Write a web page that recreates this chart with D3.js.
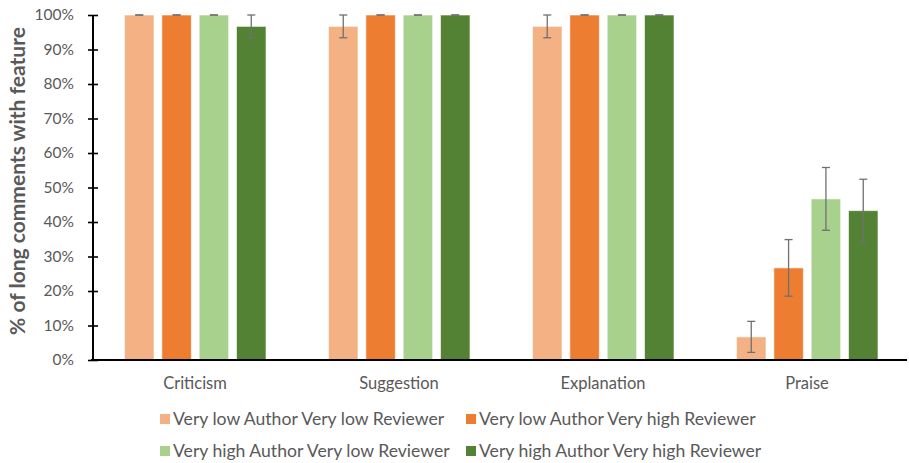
<!DOCTYPE html>
<html>
<head>
<meta charset="utf-8">
<script src="https://cdn.jsdelivr.net/npm/d3@7"></script>
<style>
  body { margin: 0; background: #fff; }
  svg { display: block; }
  text { font-family: Lato, "Open Sans", sans-serif; }
</style>
</head>
<body>
<svg id="chart" width="909" height="463"></svg>
<script>
// Share of long comments showing each feature, per author/reviewer group
const categories = ["Criticism", "Suggestion", "Explanation", "Praise"];
const seriesNames = [
  "Very low Author Very low Reviewer",
  "Very low Author Very high Reviewer",
  "Very high Author Very low Reviewer",
  "Very high Author Very high Reviewer"
];
const seriesColors = ["#F4B183", "#ED7D31", "#A9D18E", "#548235"];
// values (%) per series, in category order
const values = [
  [100, 96.7, 96.7, 6.7],
  [100, 100, 100, 26.7],
  [100, 100, 100, 46.7],
  [96.7, 100, 100, 43.3]
];
// error half-widths (%) per series
const errors = [
  [0, 3.3, 3.3, 4.5],
  [0, 0, 0, 8.2],
  [0, 0, 0, 9.1],
  [3.3, 0, 0, 9.1]
];
const yTicks = [0, 10, 20, 30, 40, 50, 60, 70, 80, 90, 100];

const svg = d3.select("#chart");
const plotLeft = 93, plotRight = 909, plotTop = 15, plotBottom = 360;

const x0 = d3.scaleBand().domain(categories).range([plotLeft, plotRight]);
const x1 = d3.scaleBand().domain(d3.range(seriesNames.length))
  .range([-70.5, 71]).paddingInner(0.21).paddingOuter(0);
const y = d3.scaleLinear().domain([0, 100]).range([plotBottom, plotTop]);

// bars
const groups = svg.append("g").selectAll("g")
  .data(categories).join("g")
  .attr("transform", d => `translate(${x0(d) + x0.bandwidth() / 2},0)`);

groups.each(function (cat, ci) {
  const g = d3.select(this);
  seriesNames.forEach((s, si) => {
    const v = values[si][ci];
    g.append("rect")
      .attr("x", x1(si))
      .attr("y", y(v))
      .attr("width", x1.bandwidth())
      .attr("height", y(0) - y(v))
      .attr("fill", seriesColors[si])
      .attr("stroke", "#fff")
      .attr("stroke-opacity", 0.6)
      .attr("stroke-width", 1);
  });
});

// error bars
groups.each(function (cat, ci) {
  const g = d3.select(this);
  seriesNames.forEach((s, si) => {
    const v = values[si][ci], e = errors[si][ci];
    const cx = x1(si) + x1.bandwidth() / 2;
    const hi = Math.min(100, v + e), lo = v - e;
    const col = "#707070";
    g.append("line").attr("x1", cx).attr("x2", cx)
      .attr("y1", y(hi)).attr("y2", y(lo))
      .attr("stroke", col).attr("stroke-width", 1.3);
    [hi, lo].forEach(val => {
      g.append("line").attr("x1", cx - 4).attr("x2", cx + 4)
        .attr("y1", y(val)).attr("y2", y(val))
        .attr("stroke", col).attr("stroke-width", 1.3);
    });
  });
});

// y axis with crossing tick marks
const yAxis = svg.append("g")
  .attr("transform", `translate(${plotLeft},0)`)
  .call(d3.axisLeft(y).tickValues(yTicks).tickSize(5).tickFormat(d => d + "%"));
yAxis.select(".domain").attr("stroke", "#000").attr("stroke-width", 2)
  .attr("d", `M0,${plotTop}V${plotBottom}`);
yAxis.selectAll(".tick line").attr("x1", 5).attr("x2", -5)
  .attr("stroke", "#000").attr("stroke-width", 1.6);
yAxis.selectAll(".tick text").attr("x", -19)
  .attr("fill", "#595959").attr("font-size", "15.5px")
  .attr("font-family", "Lato, 'Open Sans', sans-serif");

// x axis baseline and category labels
svg.append("line").attr("x1", plotLeft - 2).attr("x2", 907)
  .attr("y1", plotBottom).attr("y2", plotBottom)
  .attr("stroke", "#000").attr("stroke-width", 2);
svg.append("g").selectAll("text").data(categories).join("text")
  .attr("x", d => x0(d) + x0.bandwidth() / 2)
  .attr("y", 389)
  .attr("text-anchor", "middle")
  .attr("fill", "#595959").attr("font-size", "16.5px")
  .text(d => d);

// y axis title
svg.append("text")
  .attr("transform", `translate(25,181) rotate(-90)`)
  .attr("text-anchor", "middle")
  .attr("fill", "#595959").attr("font-size", "21px").attr("font-weight", "bold")
  .text("% of long comments with feature");

// legend
const legendPos = [[160, 419], [466, 419], [160, 451], [466, 451]];
const legend = svg.append("g").selectAll("g").data(seriesNames).join("g")
  .attr("transform", (d, i) => `translate(${legendPos[i][0]},${legendPos[i][1]})`);
legend.append("rect").attr("x", 0).attr("y", -5).attr("width", 10).attr("height", 10)
  .attr("fill", (d, i) => seriesColors[i]);
legend.append("text").attr("x", 13).attr("y", 0).attr("dy", "0.35em")
  .attr("fill", "#595959").attr("font-size", "17.6px")
  .text(d => d);
</script>
</body>
</html>
